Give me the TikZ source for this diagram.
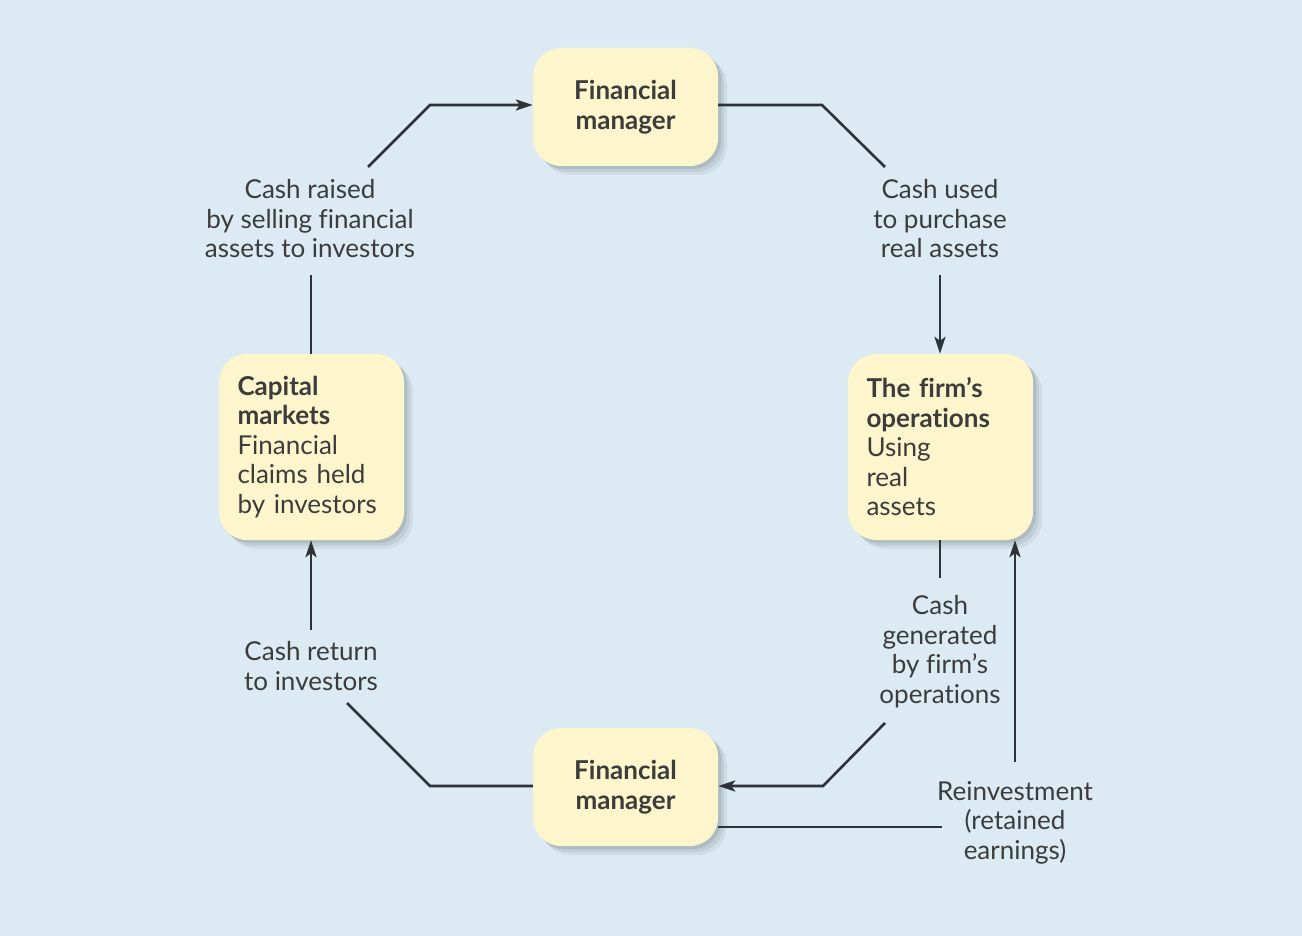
\documentclass[tikz,border=0pt]{standalone}
\usepackage{fontspec}
\setmainfont{Lato}[Ligatures={NoCommon}]
\usetikzlibrary{arrows.meta,shadows}
\definecolor{bgc}{HTML}{DBEAF3}
\definecolor{boxc}{HTML}{FDF5CB}
\definecolor{txtc}{HTML}{3C3C3C}
\definecolor{linec}{HTML}{2E3339}
\tikzset{
  box/.style={fill=boxc, rounded corners=28pt, inner sep=0pt, text=txtc,
    drop shadow={shadow xshift=9pt, shadow yshift=-9pt, opacity=0.05, fill=black},
    drop shadow={shadow xshift=6pt, shadow yshift=-6pt, opacity=0.07, fill=black},
    drop shadow={shadow xshift=3pt, shadow yshift=-3pt, opacity=0.09, fill=black}},
  fmbox/.style={box, minimum width=185pt, minimum height=118pt, align=center, font=\fontsize{26}{29.5}\selectfont\bfseries},
  sidebox/.style={box, minimum width=185pt, minimum height=186pt, text width=148pt, align=left, font=\fontsize{26}{29.5}\selectfont},
  lbl/.style={text=txtc, inner sep=0pt, align=center, anchor=base, font=\fontsize{26}{29.5}\selectfont},
  conn/.style={draw=linec, line width=2.6pt},
  arr/.style={conn, -{Stealth[length=17pt,width=11pt,inset=4pt]}}
}
\begin{document}
\begin{tikzpicture}[x=1pt,y=-1pt]
\fill[bgc] (0,0) rectangle (1302,936);
\useasboundingbox (0,0) rectangle (1302,936);

\node[fmbox] (fmtop) at (625.5,107) {Financial\\manager};
\node[fmbox] (fmbot) at (625.5,787) {Financial\\manager};
\node[sidebox] (cap) at (311.5,447) {\textbf{Capital}\\\textbf{markets}\\Financial\\claims held\\by investors};
\node[sidebox] (ops) at (940.5,447) {\textbf{The firm’s}\\\textbf{operations}\\Using\\real\\assets};

\node[lbl] (lraise) at (310,258) {Cash raised\\by selling financial\\assets to investors};
\node[lbl] (lused) at (940,258) {Cash used\\to purchase\\real assets};
\node[lbl] (lgen) at (940,703) {Cash\\generated\\by firm’s\\operations};
\node[lbl] (lret) at (311,690) {Cash return\\to investors};
\node[lbl] (lrein) at (1015,859) {Reinvestment\\(retained\\earnings)};

% cash raised
\coordinate (r1) at (311,275);
\coordinate (r2) at (368,167);
\coordinate (r3) at (430,105);
\draw[conn] (cap.north -| r1) -- (r1);
\draw[arr] (r2) -- (r3) -- (fmtop.west |- r3);

% cash used
\coordinate (u1) at (822,105);
\coordinate (u2) at (885,167);
\coordinate (u3) at (940,275);
\draw[conn] (fmtop.east |- u1) -- (u1) -- (u2);
\draw[arr] (u3) -- (ops.north -| u3);

% cash generated
\coordinate (g1) at (940,578);
\coordinate (g2) at (885,723);
\coordinate (g3) at (823,786);
\draw[conn] (ops.south -| g1) -- (g1);
\draw[arr] (g2) -- (g3) -- (fmbot.east |- g3);

% reinvestment
\coordinate (v1) at (942,827);
\coordinate (v2) at (1015,762);
\draw[conn] (fmbot.east |- v1) -- (v1);
\draw[arr] (v2) -- (ops.south -| v2);

% cash return
\coordinate (c1) at (430,786);
\coordinate (c2) at (347,703);
\coordinate (c3) at (311,630);
\draw[conn] (fmbot.west |- c1) -- (c1) -- (c2);
\draw[arr] (c3) -- (cap.south -| c3);
\end{tikzpicture}
\end{document}
